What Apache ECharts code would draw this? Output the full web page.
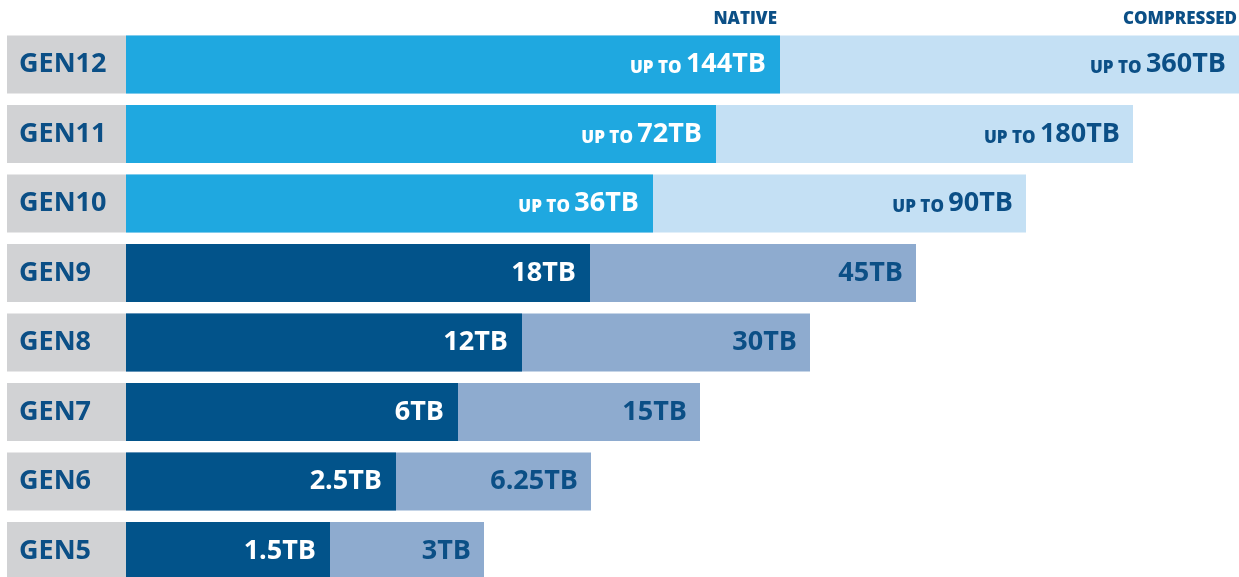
<!DOCTYPE html>
<html><head><meta charset="utf-8">
<script src="https://cdn.jsdelivr.net/npm/echarts@6/dist/echarts.min.js"></script>
<style>html,body{margin:0;padding:0;background:#fff;overflow:hidden}#c{width:1239px;height:600px}</style>
</head><body><div id="c"></div>
<script>
// Generations (top to bottom)
const categories = ['GEN12','GEN11','GEN10','GEN9','GEN8','GEN7','GEN6','GEN5'];
// Capacity labels
const nativeLabels = ['144TB','72TB','36TB','18TB','12TB','6TB','2.5TB','1.5TB'];
const compressedLabels = ['360TB','180TB','90TB','45TB','30TB','15TB','6.25TB','3TB'];
const upTo = [true,true,true,false,false,false,false,false];
// Drawn bar lengths (graphic is not to scale), in chart units
const nativeLength = [654,590,527,464,396,332,270,204];
const compressedLength = [1113,1007,900,790,684,574,465,358];
const headers = ['NATIVE','COMPRESSED'];

const NAVY='#0b4f86', BRIGHT='#1fa8e0', LIGHT='#c4e0f4', DARK='#02538a', MUTED='#8eabcf', GRAY='#d1d2d4';
const FONT='Open Sans';

const chart = echarts.init(document.getElementById('c'), null, {renderer:'canvas'});
function lbl(i, text){
  return upTo[i] ? '{s|UP TO }{v|'+text+'}' : '{v|'+text+'}';
}
const rich = c => ({
  s:{color:c,fontFamily:FONT,fontWeight:800,fontSize:17,verticalAlign:'bottom',padding:[0,0,1,0]},
  v:{color:c,fontFamily:FONT,fontWeight:700,fontSize:27}
});
chart.setOption({
  animation:false,
  grid:{left:126,right:0,top:29.8,height:556,containLabel:false},
  xAxis:{type:'value',min:0,max:1113,show:false},
  yAxis:{type:'category',data:categories,inverse:true,
    axisLine:{show:false},axisTick:{show:false},splitLine:{show:false},
    axisLabel:{margin:119,align:'left',backgroundColor:GRAY,width:107,height:58,lineHeight:58,
      padding:[0,0,0,12],color:NAVY,fontFamily:FONT,fontWeight:700,fontSize:27}},
  series:[
    {type:'bar',barWidth:58,barGap:'-100%',
     data:compressedLength.map((v,i)=>({value:v,itemStyle:{color:upTo[i]?LIGHT:MUTED}})),
     label:{show:true,position:'insideRight',distance:13,
       formatter:p=>lbl(p.dataIndex,compressedLabels[p.dataIndex]),rich:rich(NAVY)}},
    {type:'bar',barWidth:58,
     data:nativeLength.map((v,i)=>({value:v,itemStyle:{color:upTo[i]?BRIGHT:DARK}})),
     label:{show:true,position:'insideRight',distance:14,
       formatter:p=>lbl(p.dataIndex,nativeLabels[p.dataIndex]),rich:rich('#fff')}}
  ]
});
const pN = chart.convertToPixel({gridIndex:0},[nativeLength[0],0]);
const pC = chart.convertToPixel({gridIndex:0},[compressedLength[0],0]);
chart.setOption({graphic:[
  {type:'text',x:pN[0]-3,y:19,style:{text:headers[0],align:'right',verticalAlign:'middle',fill:NAVY,font:'800 17px "Open Sans"'}},
  {type:'text',x:pC[0]-2,y:19,style:{text:headers[1],align:'right',verticalAlign:'middle',fill:NAVY,font:'800 17px "Open Sans"'}}
]});
</script></body></html>
